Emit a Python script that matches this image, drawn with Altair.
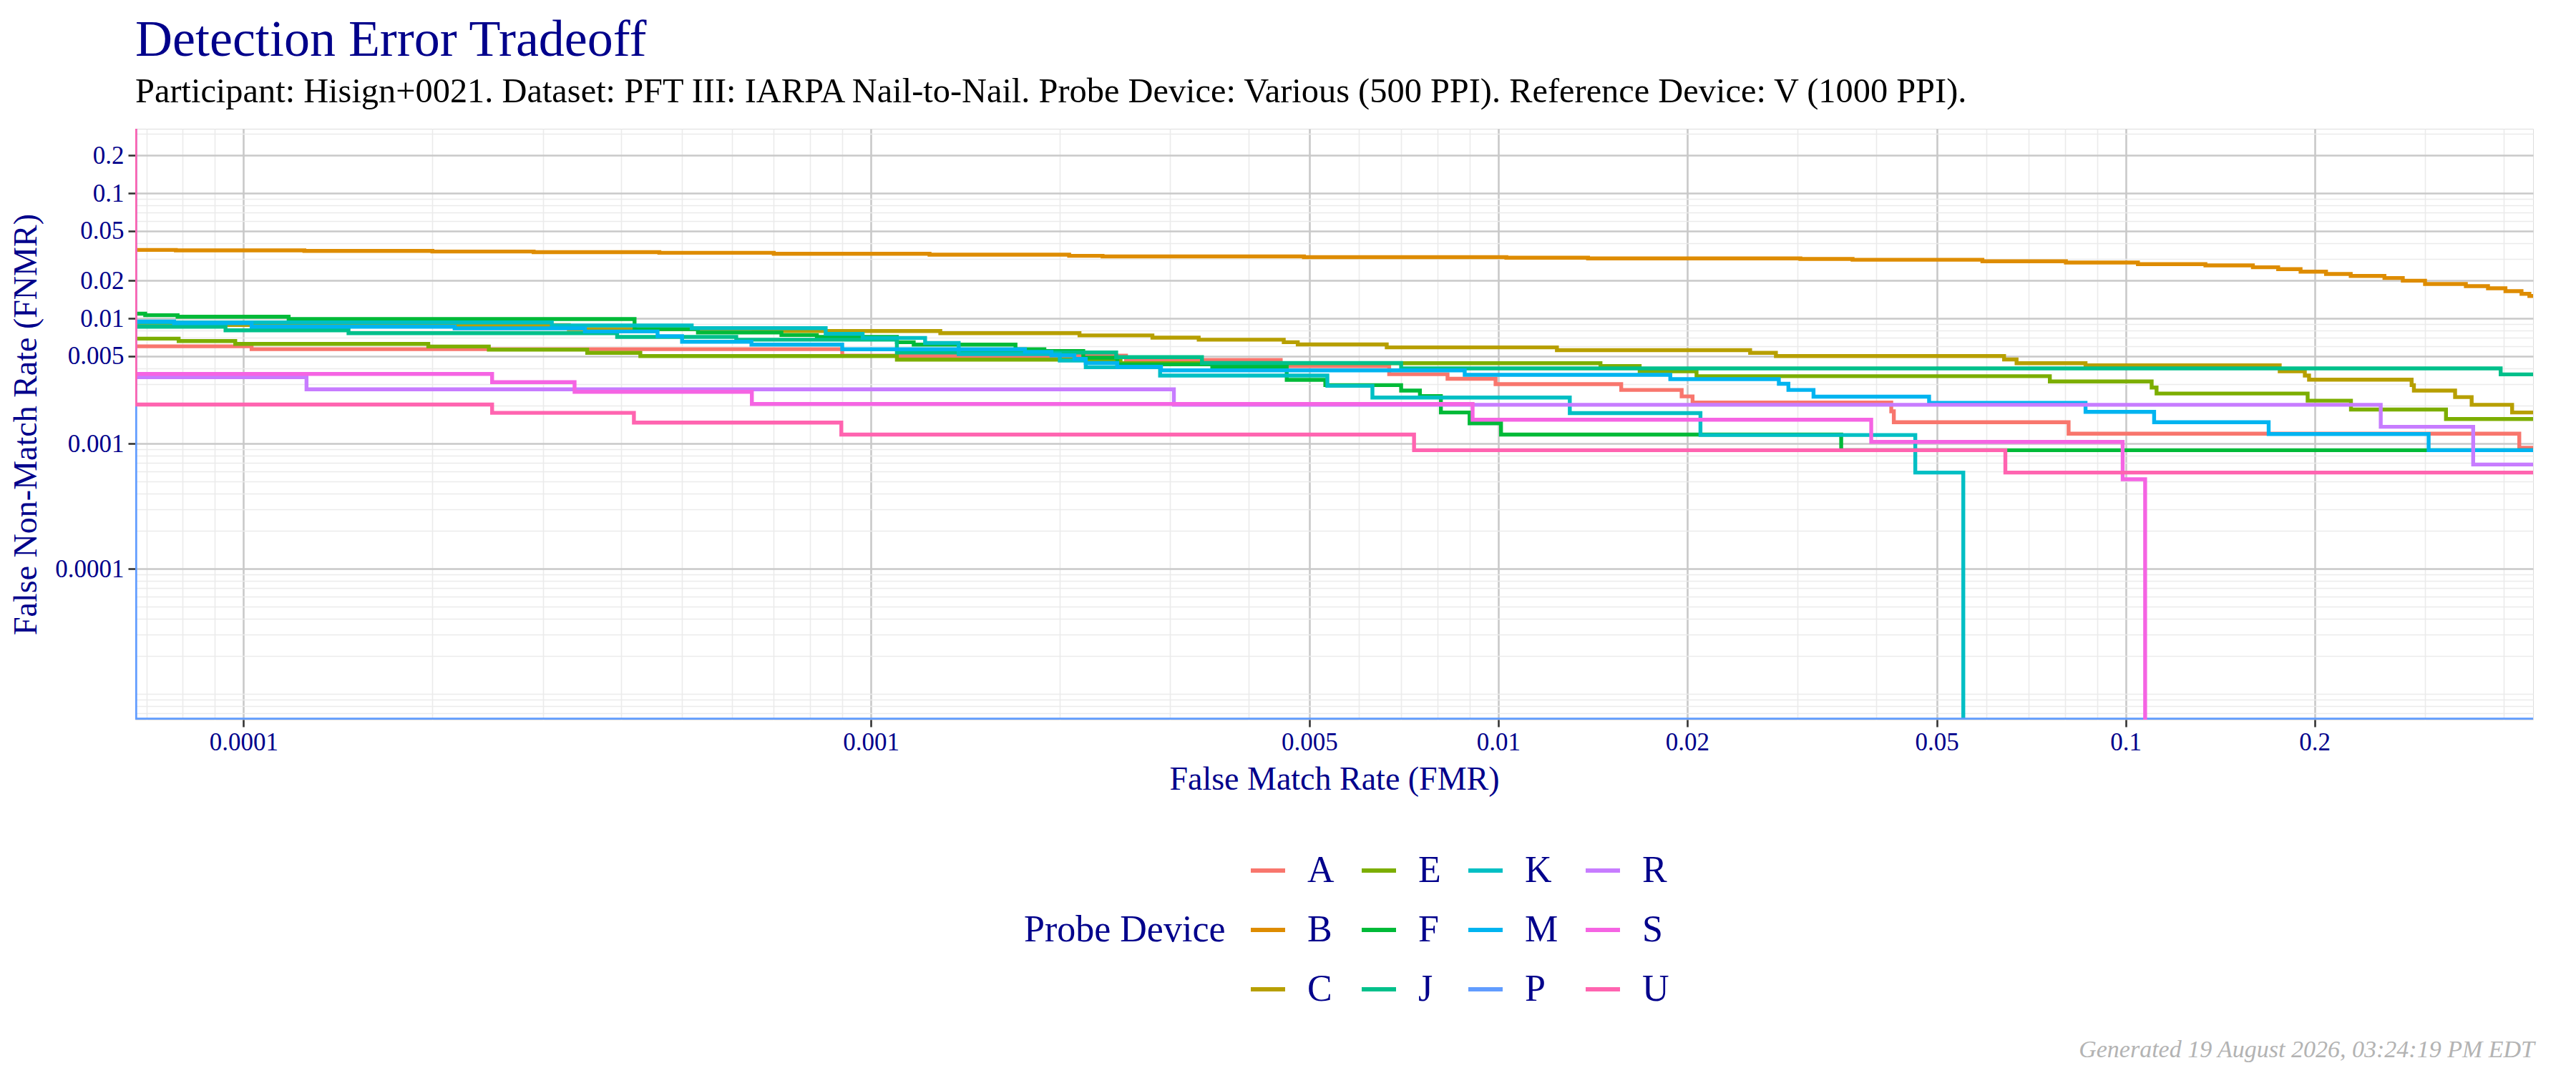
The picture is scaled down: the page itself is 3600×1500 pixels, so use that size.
import json
import pandas as pd
import altair as alt

# Axis ranges (log scales)
X_MIN, X_MAX = 6.72e-5, 0.446
Y_MIN, Y_MAX = 6.23e-6, 0.327
ZERO = 1e-7  # FNMR of zero: falls below the log axis

X_MAJOR = [0.0001, 0.001, 0.005, 0.01, 0.02, 0.05, 0.1, 0.2]
Y_MAJOR = [0.0001, 0.001, 0.005, 0.01, 0.02, 0.05, 0.1, 0.2]

# Step curves per probe device: FMR where each step starts, FNMR held from there
A_FMR = [X_MIN, 1.03e-4, 9.0e-4, 2.55e-3, 4.5e-3, 6.7e-3, 8.3e-3, 9.9e-3, 0.0157, 0.0196, 0.0204, 0.0423, 0.0427, 0.0811, 0.424, 0.46]
A_FNMR = [0.00598, 0.00567, 0.00503, 0.00465, 0.00416, 0.00358, 0.00329, 0.00298, 0.00268, 0.00238, 0.00213, 0.00181, 0.00148, 0.0012, 0.000925, 0.000925]

B_FMR = [X_MIN, 7.8e-5, 1.25e-4, 2.0e-4, 2.9e-4, 4.6e-4, 7.0e-4, 1.24e-3, 2.07e-3, 2.34e-3, 4.9e-3, 0.0103, 0.0139,
         0.0303, 0.0367, 0.0591, 0.0803, 0.1046, 0.134, 0.1595, 0.175, 0.19, 0.2086, 0.2284, 0.2585, 0.2765, 0.30,
         0.3485, 0.378, 0.403, 0.4275, 0.44, 0.46]
B_FNMR = [0.0352, 0.0349, 0.0346, 0.0342, 0.0338, 0.0334, 0.0328, 0.0323, 0.0316, 0.0312, 0.0308, 0.0305, 0.0301,
          0.0298, 0.0294, 0.0286, 0.0279, 0.0271, 0.0265, 0.0256, 0.0247, 0.0236, 0.0226, 0.0218, 0.0210, 0.0200, 0.0188,
          0.0181, 0.0174, 0.0165, 0.0157, 0.0151, 0.0150]

C_FMR = [X_MIN, 3.3e-4, 6.5e-4, 1.29e-3, 2.15e-3, 2.81e-3, 3.33e-3, 4.55e-3, 4.79e-3, 6.64e-3, 0.0124, 0.0252, 0.0277,
         0.064, 0.067, 0.0863, 0.176, 0.193, 0.196, 0.2856, 0.288, 0.335, 0.356, 0.413, 0.46]
C_FNMR = [0.00885, 0.0082, 0.00792, 0.00762, 0.00731, 0.00702, 0.00675, 0.00645, 0.00619, 0.00586, 0.00557, 0.0053, 0.005,
          0.0047, 0.00438, 0.00421, 0.00378, 0.00349, 0.00324, 0.00293, 0.00265, 0.00235, 0.00204, 0.00177, 0.00177]

E_FMR = [X_MIN, 7.88e-5, 9.7e-5, 1.97e-4, 2.46e-4, 3.53e-4, 4.29e-4, 1.1e-3, 2.5e-3, 0.01455, 0.0168, 0.0207, 0.0757,
         0.11, 0.112, 0.195, 0.2286, 0.324, 0.46]
E_FNMR = [0.00689, 0.00659, 0.00625, 0.00596, 0.00563, 0.0053, 0.005, 0.00468, 0.00438, 0.00416, 0.00378, 0.00345, 0.00313,
          0.0028, 0.00251, 0.0022, 0.00187, 0.00157, 0.00157]

F_FMR = [X_MIN, 6.97e-5, 7.85e-5, 1.18e-4, 4.2e-4, 5.3e-4, 7.2e-4, 8.2e-4, 1.1e-3, 1.17e-3, 1.7e-3, 1.89e-3, 2.18e-3,
         2.47e-3, 3.5e-3, 4.6e-3, 5.3e-3, 7.0e-3, 7.5e-3, 8.1e-3, 9.0e-3, 0.0101, 0.0352, 0.46]
F_FNMR = [0.0109, 0.0106, 0.0103, 0.00987, 0.0082, 0.0077, 0.00736, 0.00712, 0.00645, 0.00617, 0.00566, 0.00548, 0.00485,
          0.00429, 0.0041, 0.00323, 0.00293, 0.00265, 0.00239, 0.00177, 0.00145, 0.00118, 0.000885, 0.000885]

J_FMR = [X_MIN, 9.36e-5, 1.47e-4, 3.94e-4, 6.1e-4, 1.1e-3, 2.46e-3, 3.37e-3, 7.0e-3, 0.396, 0.46]
J_FNMR = [0.00857, 0.00803, 0.00762, 0.0071, 0.00675, 0.00534, 0.0049, 0.0044, 0.00398, 0.00357, 0.00357]

K_FMR = [X_MIN, 3.1e-4, 5.18e-4, 8.47e-4, 9.7e-4, 1.22e-3, 1.38e-3, 2.0e-3, 2.2e-3, 2.89e-3, 5.34e-3, 6.3e-3, 0.013,
         0.021, 0.0462, 0.0551]
K_FNMR = [0.00927, 0.00877, 0.00835, 0.00752, 0.00698, 0.00636, 0.00518, 0.0046, 0.00407, 0.00349, 0.00289, 0.00233,
          0.00175, 0.00117, 0.000586, ZERO]

M_FMR = [X_MIN, 7.75e-5, 1.03e-4, 2.17e-4, 3.5e-4, 4.57e-4, 5.0e-4, 6.45e-4, 9.0e-4, 1.76e-3, 1.94e-3, 2.11e-3, 2.2e-3,
         2.47e-3, 2.9e-3, 8.84e-3, 0.0188, 0.028, 0.029, 0.0318, 0.0486, 0.0863, 0.111, 0.169, 0.304, 0.46]
M_FNMR = [0.00945, 0.00916, 0.00857, 0.00832, 0.00786, 0.0072, 0.0065, 0.00617, 0.00566, 0.0054, 0.00506, 0.00474, 0.0044,
          0.0041, 0.00384, 0.00354, 0.00327, 0.003, 0.00268, 0.00237, 0.00211, 0.00179, 0.00148, 0.00119, 0.000885, 0.000885]

# P never misses: zero FNMR, drawn on the panel floor as in the original
P_FMR = [X_MIN, X_MIN, 0.46]
P_FNMR = [1.0, Y_MIN, Y_MIN]

R_FMR = [X_MIN, 1.26e-4, 3.04e-3, 0.255, 0.358, 0.46]
R_FNMR = [0.00339, 0.00271, 0.00204, 0.00136, 0.00068, 0.00068]

S_FMR = [X_MIN, 2.49e-4, 3.37e-4, 6.46e-4, 9.1e-3, 0.0393, 0.0989, 0.1074]
S_FNMR = [0.0036, 0.00309, 0.00259, 0.00207, 0.00155, 0.00103, 0.000518, ZERO]

U_FMR = [X_MIN, X_MIN, 2.49e-4, 4.19e-4, 8.97e-4, 7.34e-3, 0.0643, 0.46]
U_FNMR = [1.0, 0.00205, 0.00176, 0.00147, 0.00118, 0.000885, 0.000586, 0.000586]

SERIES = [("A", A_FMR, A_FNMR), ("B", B_FMR, B_FNMR), ("C", C_FMR, C_FNMR), ("E", E_FMR, E_FNMR),
          ("F", F_FMR, F_FNMR), ("J", J_FMR, J_FNMR), ("K", K_FMR, K_FNMR), ("M", M_FMR, M_FNMR),
          ("P", P_FMR, P_FNMR), ("R", R_FMR, R_FNMR), ("S", S_FMR, S_FNMR), ("U", U_FMR, U_FNMR)]

DEVICES = ["A", "B", "C", "E", "F", "J", "K", "M", "P", "R", "S", "U"]
COLORS = ["#F8766D", "#DE8C00", "#B79F00", "#7CAE00", "#00BA38", "#00C08B",
          "#00BFC4", "#00B4F0", "#619CFF", "#C77CFF", "#F564E3", "#FF64B0"]

TITLE = "Detection Error Tradeoff"
SUBTITLE = ("Participant: Hisign+0021. Dataset: PFT III: IARPA Nail-to-Nail. Probe Device: Various (500 PPI). "
            "Reference Device: V (1000 PPI).")
FOOTER = "Generated 19 August 2026, 03:24:19 PM EDT"

rows = []
for dev, fmr, fnmr in SERIES:
    for i, (x, y) in enumerate(zip(fmr, fnmr)):
        rows.append({"device": dev, "fmr": x, "fnmr": y, "idx": i})
df = pd.DataFrame(rows)

NAVY = "#00008B"
FONT = "Liberation Serif"
W, H = 3351, 826


def grid_values(lo, hi):
    vals = []
    for d in range(-7, 1):
        for k in range(1, 10):
            v = round(k * 10 ** d, 12)
            if lo <= v <= hi:
                vals.append(v)
    return vals


def log_axis(title, major, lo, hi, **kw):
    test = "indexof(%s, datum.value) >= 0" % json.dumps(major)
    return alt.Axis(
        title=title,
        values=grid_values(lo, hi),
        labelExpr="%s ? '' + datum.value : ''" % test,
        gridColor={"condition": {"test": test, "value": "#C9C9C9"}, "value": "#EBEBEB"},
        gridWidth={"condition": {"test": test, "value": 2.6}, "value": 1.6},
        tickOpacity={"condition": {"test": test, "value": 1}, "value": 0},
        tickColor="#333333", tickWidth=2.6, tickSize=10,
        domain=False, labelOverlap=False, labelFlush=False,
        labelFont=FONT, labelFontSize=35, labelColor=NAVY,
        titleFont=FONT, titleFontSize=46, titleColor=NAVY, titleFontWeight="normal",
        **kw,
    )


lines = alt.Chart(df).mark_line(interpolate="step-after", strokeWidth=5.4, clip=True).encode(
    x=alt.X("fmr:Q", scale=alt.Scale(type="log", domain=[X_MIN, X_MAX], nice=False),
            axis=log_axis("False Match Rate (FMR)", X_MAJOR, X_MIN, X_MAX, labelPadding=4, titlePadding=12)),
    y=alt.Y("fnmr:Q", scale=alt.Scale(type="log", domain=[Y_MIN, Y_MAX], nice=False),
            axis=log_axis("False Non-Match Rate (FNMR)", Y_MAJOR, Y_MIN, Y_MAX, labelPadding=6, titlePadding=16)),
    color=alt.Color("device:N", scale=alt.Scale(domain=DEVICES, range=COLORS),
                    legend=alt.Legend(title="Probe Device", orient="none", legendX=1242, legendY=1010,
                                      columns=4, titleOrient="left", titleAnchor="middle", titleBaseline="middle",
                                      titlePadding=32, titleLimit=1000, labelLimit=500,
                                      symbolType="stroke", symbolSize=2304, symbolStrokeWidth=6,
                                      labelOffset=28, columnPadding=26, rowPadding=30,
                                      labelFont=FONT, labelFontSize=52, labelColor=NAVY,
                                      titleFont=FONT, titleFontSize=52, titleColor=NAVY, titleFontWeight="normal")),
    order="idx:Q",
    detail="device:N",
)

footer = alt.Chart(pd.DataFrame({"note": [FOOTER]})).mark_text(
    align="right", baseline="alphabetic", font=FONT, fontStyle="italic", fontSize=34, color="#B3B3B3"
).encode(x=alt.value(W + 2), y=alt.value(1298), text="note:N")

chart = (lines + footer).properties(
    width=W, height=H,
    autosize=alt.AutoSizeParams(type="none"),
    padding={"left": 181, "top": 172, "right": 52, "bottom": 486},
    title=alt.TitleParams(text=TITLE, subtitle=SUBTITLE, anchor="start", frame="group", offset=16,
                          font=FONT, fontSize=72, fontWeight="normal", color=NAVY,
                          subtitleFont=FONT, subtitleFontSize=48.4, subtitleColor="black", subtitlePadding=12),
).configure_view(stroke="#333333", strokeWidth=2.6).configure(background="white")

chart.save("out.html", embed_options={"renderer": "svg", "actions": False})
